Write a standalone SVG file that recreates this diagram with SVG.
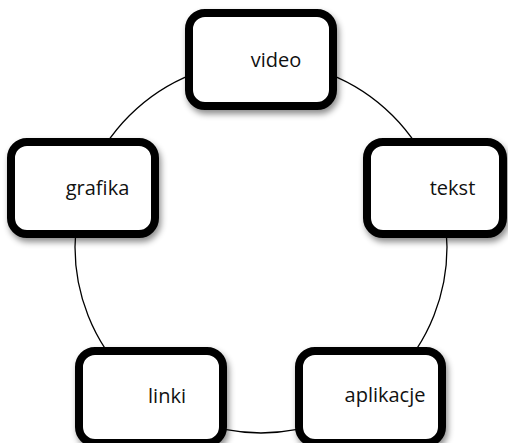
<svg xmlns="http://www.w3.org/2000/svg" width="508" height="443" viewBox="0 0 508 443">
  <defs>
    <filter id="shadow" x="-20%" y="-20%" width="140%" height="150%">
      <feDropShadow dx="2" dy="4" stdDeviation="3" flood-color="#000" flood-opacity="0.45"/>
    </filter>
  </defs>
  <style>
    .box { fill: #fff; stroke: #000; stroke-width: 8; filter: url(#shadow); }
    .label { font-family: "Open Sans", "Noto Sans", sans-serif; font-size: 20px; fill: #111; text-anchor: middle; }
    .ring { fill: none; stroke: #000; stroke-width: 1.3; }
  </style>
  <rect width="508" height="443" fill="#fff"/>

  <!-- ring connecting the nodes -->
  <g id="connectors">
    <circle class="ring" cx="261" cy="247" r="186"/>
  </g>

  <g id="node-video">
    <rect class="box" x="189" y="13" width="144" height="93" rx="16"/>
    <text class="label" x="276" y="67">video</text>
  </g>

  <g id="node-grafika">
    <rect class="box" x="11" y="142" width="144" height="92" rx="16"/>
    <text class="label" x="97.5" y="195">grafika</text>
  </g>

  <g id="node-tekst">
    <rect class="box" x="367" y="142" width="136" height="92" rx="16"/>
    <text class="label" x="452.5" y="195">tekst</text>
  </g>

  <g id="node-linki">
    <rect class="box" x="79" y="351" width="144" height="92" rx="16"/>
    <text class="label" x="167" y="403">linki</text>
  </g>

  <g id="node-aplikacje">
    <rect class="box" x="299" y="351" width="143" height="92" rx="16"/>
    <text class="label" x="385" y="402">aplikacje</text>
  </g>
</svg>
